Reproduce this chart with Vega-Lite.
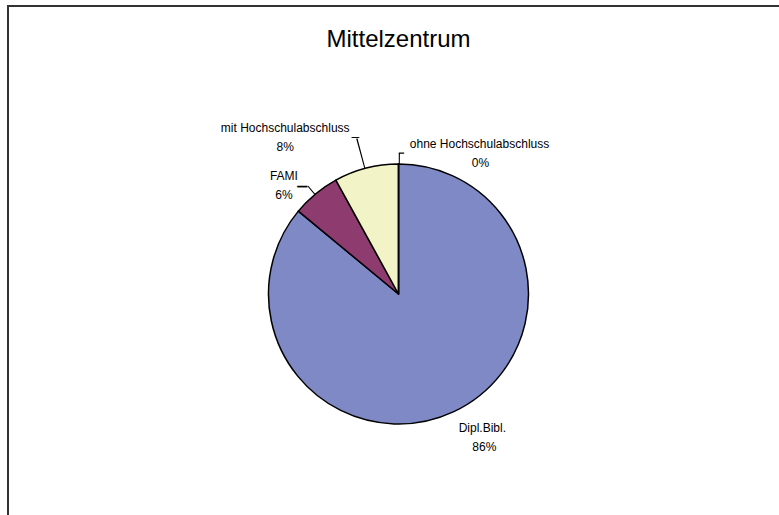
{
  "$schema": "https://vega.github.io/schema/vega-lite/v6.json",
  "width": 781,
  "height": 576,
  "autosize": {"type": "none"},
  "padding": {"left": 8, "top": 6, "right": 0, "bottom": 0},
  "background": "white",
  "view": {"stroke": "#333333", "strokeWidth": 2, "fill": "white"},
  "config": {
    "view": {"stroke": "#333333", "strokeWidth": 2},
    "font": "Liberation Sans"
  },
  "title": {
    "text": "Mittelzentrum",
    "fontSize": 24,
    "fontWeight": "normal",
    "font": "Liberation Sans",
    "color": "#000000",
    "anchor": "middle",
    "frame": "group",
    "baseline": "alphabetic",
    "offset": -65
  },
  "data": {
    "values": [
      {"cat": "Dipl.Bibl.", "share": 0.86, "order": 1},
      {"cat": "FAMI", "share": 0.06, "order": 2},
      {"cat": "mit Hochschulabschluss", "share": 0.08, "order": 3},
      {"cat": "ohne Hochschulabschluss", "share": 0.0, "order": 4}
    ]
  },
  "layer": [
    {
      "mark": {"type": "arc", "outerRadius": 130, "stroke": "#000000", "strokeWidth": 1.5, "strokeJoin": "round"},
      "encoding": {
        "theta": {"field": "share", "type": "quantitative", "stack": true, "scale": {"domain": [0, 1], "range": [0, 6.283185307]}},
        "order": {"field": "order", "type": "quantitative"},
        "color": {
          "field": "cat",
          "type": "nominal",
          "scale": {
            "domain": ["Dipl.Bibl.", "FAMI", "mit Hochschulabschluss", "ohne Hochschulabschluss"],
            "range": ["#7F89C6", "#8E3B6F", "#F2F3C6", "#CCFFFF"]
          },
          "legend": null
        }
      }
    },
    {
      "transform": [
        {"stack": "share", "groupby": [], "sort": [{"field": "order", "order": "ascending"}], "as": ["t0", "t1"]},
        {"filter": "datum.order > 1"}
      ],
      "mark": {
        "type": "arc",
        "color": "#000000",
        "innerRadius": 130,
        "outerRadius": {"expr": "datum.order === 3 ? 161 : 141"},
        "thetaOffset": {"expr": "datum.order === 2 ? -0.1995 : datum.order === 3 ? -0.2658 : 0.002"},
        "theta2Offset": {"expr": "datum.order === 2 ? -0.1915 : datum.order === 3 ? -0.2578 : 0.010"}
      },
      "encoding": {
        "theta": {"field": "t1", "type": "quantitative", "scale": {"domain": [0, 1], "range": [0, 6.283185307]}},
        "theta2": {"field": "t1"}
      }
    },
    {
      "transform": [
        {"stack": "share", "groupby": [], "sort": [{"field": "order", "order": "ascending"}], "as": ["t0", "t1"]},
        {"filter": "datum.order === 4"}
      ],
      "mark": {
        "type": "arc",
        "color": "#000000",
        "innerRadius": 140.3,
        "outerRadius": 141.5,
        "thetaOffset": 0.002,
        "theta2Offset": 0.040
      },
      "encoding": {
        "theta": {"field": "t1", "type": "quantitative", "scale": {"domain": [0, 1], "range": [0, 6.283185307]}},
        "theta2": {"field": "t1"}
      }
    },
    {
      "mark": {
        "type": "text",
        "radius": 141,
        "font": "Liberation Sans",
        "color": "#000000",
        "stroke": "#000000",
        "strokeWidth": 0.3,
        "align": "right",
        "baseline": "alphabetic",
        "fontSize": {"expr": "datum.order === 2 ? 18 : 13"},
        "dx": {"expr": "datum.order === 2 ? -1.4 : -4.4"},
        "dy": {"expr": "datum.order === 2 ? 5.6 : -16.1"}
      },
      "encoding": {
        "theta": {"field": "share", "type": "quantitative", "stack": true, "scale": {"domain": [0, 1], "range": [0, 6.283185307]}},
        "order": {"field": "order", "type": "quantitative"},
        "text": {"condition": {"test": "datum.order === 2 || datum.order === 3", "value": "–"}, "value": ""}
      }
    },
    {
      "mark": {
        "type": "text",
        "radius": 150,
        "fontSize": 12,
        "font": "Liberation Sans",
        "color": "#000000",
        "align": "center",
        "baseline": "alphabetic",
        "dx": {"expr": "datum.order === 1 ? 20 : datum.order === 2 ? -19 : datum.order === 3 ? -76 : 81"},
        "dy": {"expr": "datum.order === 1 ? 2 : datum.order === 2 ? 2 : datum.order === 3 ? -17 : 4"}
      },
      "encoding": {
        "theta": {"field": "share", "type": "quantitative", "stack": true, "scale": {"domain": [0, 1], "range": [0, 6.283185307]}},
        "order": {"field": "order", "type": "quantitative"},
        "text": {"field": "cat", "type": "nominal"}
      }
    },
    {
      "mark": {
        "type": "text",
        "radius": 150,
        "fontSize": 12,
        "font": "Liberation Sans",
        "color": "#000000",
        "align": "center",
        "baseline": "alphabetic",
        "dx": {"expr": "datum.order === 1 ? 22 : datum.order === 2 ? -19 : datum.order === 3 ? -76 : 82"},
        "dy": {"expr": "datum.order === 1 ? 21 : datum.order === 2 ? 21 : datum.order === 3 ? 2 : 23"}
      },
      "encoding": {
        "theta": {"field": "share", "type": "quantitative", "stack": true, "scale": {"domain": [0, 1], "range": [0, 6.283185307]}},
        "order": {"field": "order", "type": "quantitative"},
        "text": {"field": "share", "type": "quantitative", "format": ".0%"}
      }
    }
  ]
}
